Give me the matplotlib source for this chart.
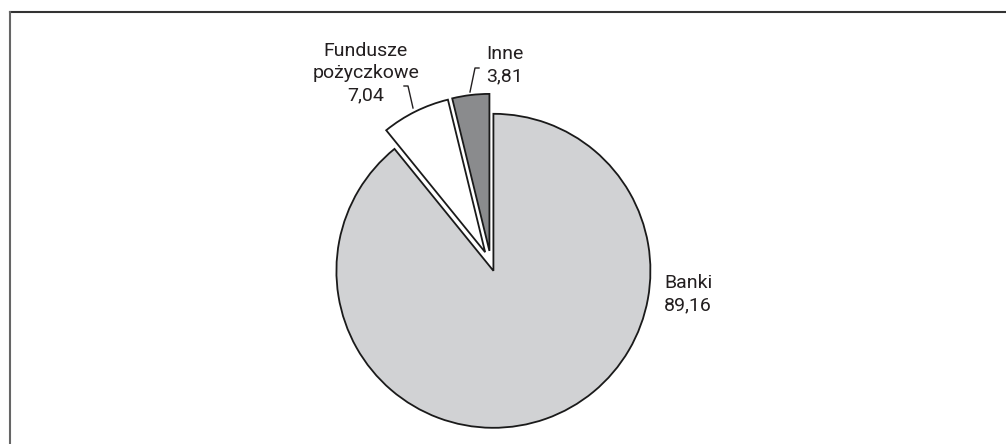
import matplotlib.pyplot as plt
from matplotlib.lines import Line2D

labels = ["Banki", "Fundusze\npożyczkowe", "Inne"]
shares = [89.16, 7.04, 3.81]
colors = ["#d1d2d4", "#ffffff", "#8a8b8d"]
explode = [0.046, 0.084, 0.084]

W, H = 1006, 444
R = 157.0          # pie radius in pixels
CX, CY = 491.0, 264.0  # pie centre in pixels from top-left


def px(x, y):
    # pixel position (from top-left) -> data units of the pie axes
    return (x - CX) / R, (CY - y) / R


plt.rcParams["font.family"] = ["Roboto", "DejaVu Sans"]

fig = plt.figure(figsize=(W / 100, H / 100), dpi=100)
ax = fig.add_axes([0, 0, 1, 1])
ax.pie(shares, colors=colors, explode=explode, startangle=90, counterclock=False,
       wedgeprops=dict(edgecolor="#1a1a1a", linewidth=1.3))
ax.set_xlim(-CX / R, (W - CX) / R)
ax.set_ylim(-(H - CY) / R, CY / R)
ax.set_aspect("equal")
ax.axis("off")

def fmt(v):
    return f"{v:.2f}".replace(".", ",")

txt = dict(fontsize=14, color="#231f20", linespacing=1.3)
ax.text(*px(366, 73), f"{labels[1]}\n{fmt(shares[1])}", ha="center", va="center", **txt)
ax.text(*px(486, 65), f"{labels[2]}\n{fmt(shares[2])}", ha="left", va="center", **txt)
ax.text(*px(664, 294), f"{labels[0]}\n{fmt(shares[0])}", ha="left", va="center", **txt)

# leader lines
for pts in ([(413, 108), (408, 86), (404, 86)], [(470, 92), (475, 68), (479, 68)]):
    xs, ys = zip(*[px(x, y) for x, y in pts])
    ax.plot(xs, ys, color="#231f20", lw=1)

# frame: top and left rule only
fig.add_artist(Line2D([9.5 / W, 1], [1 - 12 / H, 1 - 12 / H], color="#333333", lw=1.5,
                      transform=fig.transFigure))
fig.add_artist(Line2D([9.5 / W, 9.5 / W], [0, 1 - 12 / H], color="#666666", lw=1.5,
                      transform=fig.transFigure))

fig.savefig("out.png", dpi=100)
